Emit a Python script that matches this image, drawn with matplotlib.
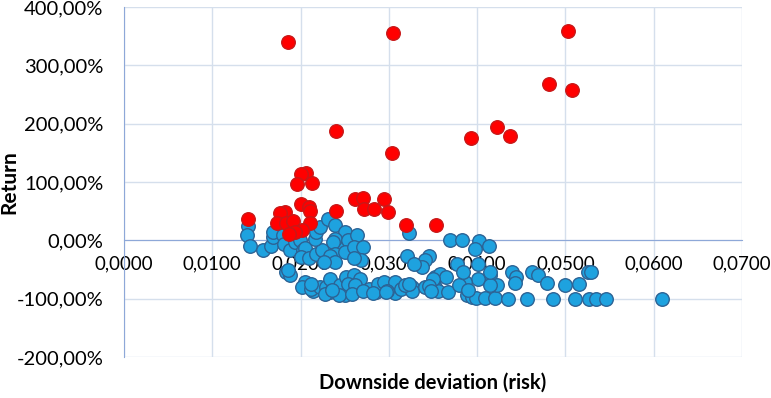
import matplotlib
matplotlib.use('Agg')
import matplotlib.pyplot as plt
from matplotlib.ticker import FuncFormatter

plt.rcParams['font.family'] = ['Lato', 'DejaVu Sans']

# downside deviation (risk) and return (%) per fund
blue_risk = [0.0140, 0.0139, 0.0143, 0.0158, 0.0166, 0.0169, 0.0169, 0.0180, 0.0181,
             0.0188, 0.0194, 0.0199, 0.0203, 0.0205, 0.0201, 0.0209, 0.0218, 0.0224,
             0.0216, 0.0218, 0.0222, 0.0231, 0.0239, 0.0245, 0.0250, 0.0239, 0.0237,
             0.0239, 0.0233, 0.0239, 0.0226, 0.0254, 0.0250, 0.0264, 0.0260, 0.0271,
             0.0269, 0.0261,
             0.0184, 0.0188, 0.0186, 0.0205, 0.0202, 0.0214, 0.0212, 0.0222, 0.0229,
             0.0233, 0.0233, 0.0245, 0.0245, 0.0252, 0.0256, 0.0250, 0.0260, 0.0267,
             0.0254, 0.0262, 0.0277, 0.0286, 0.0288, 0.0294, 0.0307, 0.0307, 0.0314,
             0.0326, 0.0326, 0.0341, 0.0350, 0.0352, 0.0356, 0.0352, 0.0298, 0.0318,
             0.0323, 0.0320, 0.0345, 0.0341, 0.0337, 0.0369, 0.0383, 0.0402, 0.0413,
             0.0398, 0.0358, 0.0365, 0.0350, 0.0377, 0.0401, 0.0414, 0.0401, 0.0386,
             0.0345, 0.0323, 0.0348, 0.0367, 0.0380, 0.0388, 0.0394, 0.0399, 0.0409,
             0.0420, 0.0422, 0.0435, 0.0439, 0.0444, 0.0443, 0.0462, 0.0469, 0.0479,
             0.0499, 0.0515, 0.0526, 0.0529, 0.0457, 0.0486, 0.0511, 0.0527, 0.0535,
             0.0546, 0.0609, 0.0414, 0.0384, 0.0414, 0.0390, 0.0328,
             0.0228, 0.0243, 0.0258, 0.0271, 0.0282, 0.0297, 0.0212, 0.0236]
blue_ret = [24, 9, -9, -16, -9, 6, 14, 9, -6,
            -17, -3, 0, -17, -14, -29, -31, -23, -17,
            3, 14, 23, 37, 26, -6, 14, 3, -3,
            -23, -26, -37, -37, 0, -20, 9, -11, -11,
            -34, -31,
            -54, -60, -51, -71, -80, -86, -83, -80, -80,
            -66, -89, -91, -77, -63, -89, -93, -60, -66,
            -74, -77, -83, -89, -74, -71, -91, -71, -83,
            -80, -86, -80, -77, -80, -86, -63, -86, -76,
            13, -26, -26, -34, -46, 0, 1, -2, -9,
            -15, -57, -63, -66, -40, -40, -60, -66, -71,
            -79, -74, -86, -89, -77, -94, -97, -99, -99,
            -99, -77, -100, -54, -63, -73, -54, -60, -73,
            -76, -74, -54, -55, -100, -100, -100, -100, -100,
            -100, -100, -76, -54, -54, -85, -40,
            -92, -94, -92, -86, -91, -88, -74, -85]

red_risk = [0.0186, 0.0305, 0.0240, 0.0303, 0.0206, 0.0201, 0.0196, 0.0213,
            0.0503, 0.0481, 0.0508, 0.0422, 0.0393, 0.0437,
            0.0201, 0.0209, 0.0211, 0.0182, 0.0177, 0.0240, 0.0262, 0.0271,
            0.0272, 0.0283, 0.0173, 0.0183, 0.0191, 0.0211, 0.0202, 0.0194,
            0.0187, 0.0140, 0.0295, 0.0299, 0.0319, 0.0353]
red_ret = [340, 356, 187, 150, 116, 113, 97, 99,
           359, 268, 258, 194, 176, 178,
           62, 57, 50, 49, 46, 50, 70, 73,
           53, 53, 29, 29, 33, 30, 18, 14,
           10, 37, 70, 49, 27, 26]

x_ticks = [0.0, 0.01, 0.02, 0.03, 0.04, 0.05, 0.06, 0.07]
y_ticks = [-200, -100, 0, 100, 200, 300, 400]

fig = plt.figure(figsize=(7.71, 3.98), dpi=100)
ax = fig.add_axes([124 / 771, 41 / 398, 618 / 771, 350 / 398])

grid_col = '#D5DFEC'
axis_col = '#8EA8D8'

ax.scatter(blue_risk, blue_ret, s=95, c='#1EA2DF', edgecolors='#2C6395',
           linewidths=1.0, zorder=3)
ax.scatter(red_risk, red_ret, s=95, c='#FF0000', edgecolors='#C81818',
           linewidths=1.0, zorder=4)

ax.set_xlim(0, 0.07)
ax.set_ylim(-200, 400)
ax.set_xticks(x_ticks)
ax.set_yticks(y_ticks)
ax.xaxis.set_major_formatter(FuncFormatter(lambda v, p: f'{v:.4f}'.replace('.', ',')))
ax.yaxis.set_major_formatter(FuncFormatter(lambda v, p: f'{v:.2f}'.replace('.', ',') + '%'))

ax.grid(True, color=grid_col, linewidth=1.0, zorder=0)
ax.set_axisbelow(True)
for side in ['top', 'right']:
    ax.spines[side].set_visible(False)
ax.spines['bottom'].set_position(('data', 0))
ax.spines['bottom'].set_color(axis_col)
ax.spines['left'].set_color(axis_col)
ax.spines['bottom'].set_zorder(2)

ax.tick_params(axis='x', length=0, pad=11, labelsize=13.5)
ax.tick_params(axis='y', length=0, pad=15, labelsize=14.5)

fig.text(433 / 771, 1 - 383 / 398, 'Downside deviation (risk)', ha='center', va='center',
         fontsize=14.5, fontweight='bold')
fig.text(9 / 771, 1 - 182 / 398, 'Return', ha='center', va='center', rotation=90,
         fontsize=15, fontweight='bold')

fig.savefig('out.png', dpi=100)
